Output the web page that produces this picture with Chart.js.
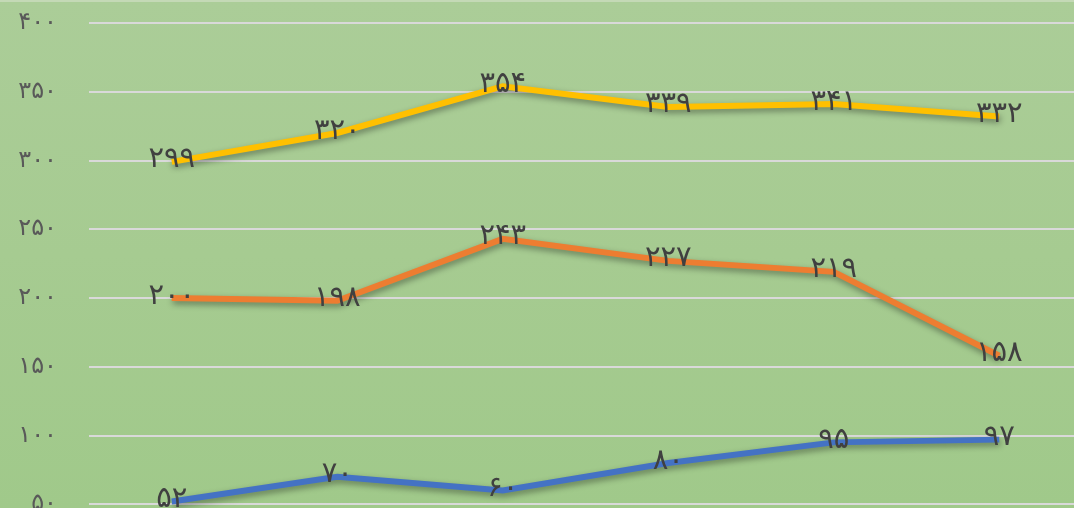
<!DOCTYPE html>
<html lang="fa">
<head>
<meta charset="UTF-8">
<title>Line chart</title>
<script src="https://cdn.jsdelivr.net/npm/chart.js"></script>
<style>
  html, body { margin: 0; padding: 0; overflow: hidden; }
  body {
    width: 1074px; height: 508px;
    background: linear-gradient(to bottom, #abcd98 0%, #a6cb91 50%, #a0c98a 100%);
    border-top: 2px solid #c4d9b6;
    box-sizing: border-box;
  }
  canvas { display: block; margin-top: -2px; }
</style>
</head>
<body>
<canvas id="chart" width="1082" height="600"></canvas>
<script>
  const categories = ['1', '2', '3', '4', '5', '6'];
  const seriesTop = [299, 320, 354, 339, 341, 332];
  const seriesMid = [200, 198, 243, 227, 219, 158];
  const seriesLow = [52, 70, 60, 80, 95, 97];
  const yTicks = [0, 50, 100, 150, 200, 250, 300, 350, 400];

  const faDigits = '۰۱۲۳۴۵۶۷۸۹';
  function toFa(n) {
    return String(n).replace(/\d/g, d => faDigits[d]);
  }

  // drop shadow under the lines
  const shadowPlugin = {
    id: 'lineShadow',
    beforeDatasetsDraw(chart) {
      const ctx = chart.ctx;
      ctx.save();
      ctx.shadowColor = 'rgba(0,0,0,0.4)';
      ctx.shadowBlur = 6;
      ctx.shadowOffsetX = 1;
      ctx.shadowOffsetY = 3;
    },
    afterDatasetsDraw(chart) {
      chart.ctx.restore();
    }
  };

  // value labels centred on each point
  const labelPlugin = {
    id: 'valueLabels',
    afterDatasetsDraw(chart) {
      const ctx = chart.ctx;
      ctx.save();
      ctx.font = '29px "DejaVu Sans"';
      ctx.fillStyle = '#404040';
      ctx.textAlign = 'center';
      ctx.textBaseline = 'middle';
      chart.data.datasets.forEach((ds, i) => {
        chart.getDatasetMeta(i).data.forEach((pt, j) => {
          ctx.fillText(toFa(ds.data[j]), pt.x, pt.y - 2);
        });
      });
      ctx.restore();
    }
  };

  new Chart(document.getElementById('chart'), {
    type: 'line',
    data: {
      labels: categories,
      datasets: [
        { data: seriesTop, borderColor: '#ffc000' },
        { data: seriesMid, borderColor: '#ed7d31' },
        { data: seriesLow, borderColor: '#4472c4' }
      ]
    },
    options: {
      responsive: false,
      animation: false,
      layout: { padding: { top: 23, bottom: 27, left: 0, right: 0 } },
      elements: {
        line: { borderWidth: 6, tension: 0, borderCapStyle: 'butt', borderJoinStyle: 'miter' },
        point: { radius: 0 }
      },
      plugins: { legend: { display: false }, tooltip: { enabled: false } },
      scales: {
        x: { display: false, offset: true },
        y: {
          min: 0,
          max: 400,
          afterFit(scale) {
            scale.width = 89;
            scale.paddingTop = 0;
            scale.paddingBottom = 0;
          },
          afterBuildTicks(scale) { scale.ticks = yTicks.map(v => ({ value: v })); },
          border: { display: false },
          grid: { color: '#d9d9d9', lineWidth: 2, drawTicks: false },
          ticks: {
            padding: 32,
            color: '#595959',
            font: { family: 'DejaVu Sans', size: 24 },
            callback: v => toFa(v)
          }
        }
      }
    },
    plugins: [shadowPlugin, labelPlugin]
  });
</script>
</body>
</html>
